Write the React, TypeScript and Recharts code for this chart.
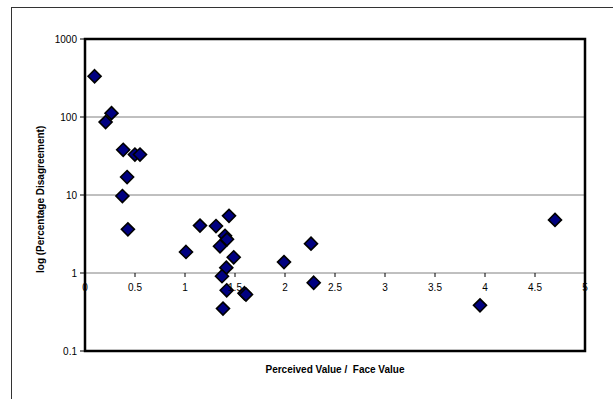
import React from 'react';
import { ScatterChart, Scatter, XAxis, YAxis, CartesianGrid, ReferenceArea } from 'recharts';

// Perceived value / face value vs percentage disagreement
const ratio = [
  0.096, 0.265, 0.206, 0.382, 0.499, 0.55, 0.421, 0.374, 0.429,
  1.01, 1.15, 1.31, 1.44, 1.4, 1.42, 1.35, 1.487, 1.413, 1.37, 1.417, 1.595, 1.61, 1.38,
  1.99, 2.26, 2.287, 3.95, 4.7,
];
const disagreement = [
  333, 112, 86, 38, 33, 33, 17, 9.7, 3.63,
  1.86, 4.05, 4.0, 5.4, 3.0, 2.7, 2.2, 1.59, 1.17, 0.91, 0.6, 0.55, 0.53, 0.35,
  1.38, 2.38, 0.75, 0.385, 4.79,
];
const xTicks = [0, 0.5, 1, 1.5, 2, 2.5, 3, 3.5, 4, 4.5, 5];
const yTicks = [0.1, 1, 10, 100, 1000];

const points = ratio.map((x, i) => ({ x, y: disagreement[i] }));

const TOP = 39;
const PLOT_H = 312;
const Y_MIN = 0.1;
const Y_MAX = 1000;
// the x axis crosses the y axis at 1
const yOne = TOP + (PLOT_H * Math.log10(Y_MAX)) / (Math.log10(Y_MAX) - Math.log10(Y_MIN));

const font = '"Liberation Sans", Arial, sans-serif';

const Diamond = (props: any) => {
  const { cx, cy } = props;
  const r = 6.5;
  return (
    <polygon
      points={`${cx},${cy - r} ${cx + r},${cy} ${cx},${cy + r} ${cx - r},${cy}`}
      fill="#000080"
      stroke="#000"
      strokeWidth={1.6}
    />
  );
};

const XTick = (props: any) => {
  const { x, payload } = props;
  return (
    <g>
      <line x1={x} x2={x} y1={yOne} y2={yOne + 4} stroke="#000" strokeWidth={1} />
      <text x={x} y={yOne + 18} textAnchor="middle" fontSize={10} fontFamily={font} fill="#000">
        {payload.value}
      </text>
    </g>
  );
};

export default function App() {
  return (
    <div style={{ position: 'relative', width: 613, height: 399, background: '#fff', overflow: 'hidden' }}>
      <style>{`body{margin:0}`}</style>
      <div
        style={{
          position: 'absolute',
          left: 11,
          top: 7,
          width: 700,
          height: 500,
          borderLeft: '1px solid #333',
          borderTop: '1px solid #333',
        }}
      />
      <ScatterChart width={613} height={399} margin={{ top: TOP, right: 28, left: 25, bottom: 0 }} style={{ position: 'absolute', left: 0, top: 0 }}>
        <CartesianGrid horizontal vertical={false} stroke="#808080" strokeWidth={1} />
        <XAxis
          type="number"
          dataKey="x"
          domain={[0, 5]}
          ticks={xTicks}
          interval={0}
          axisLine={false}
          tickLine={false}
          tick={<XTick />}
          height={48}
          label={{
            value: 'Perceived Value / \u00a0Face Value',
            position: 'insideBottom',
            offset: 26,
            fontSize: 10,
            fontWeight: 'bold',
            fontFamily: font,
            fill: '#000',
          }}
        />
        <YAxis
          type="number"
          dataKey="y"
          scale="log"
          domain={[Y_MIN, Y_MAX]}
          ticks={yTicks}
          interval={0}
          allowDataOverflow
          width={60}
          axisLine={{ stroke: '#000', strokeWidth: 2 }}
          tickLine={{ stroke: '#000' }}
          tickSize={5}
          tickMargin={3}
          tick={{ fontSize: 10, fontFamily: font, fill: '#000' }}
          label={{
            value: 'log (Percentage Disagreement)',
            angle: -90,
            position: 'insideLeft',
            offset: 15,
            dy: 78,
            fontSize: 10,
            fontWeight: 'bold',
            fontFamily: font,
            fill: '#000',
          }}
        />
        <ReferenceArea x1={0} x2={5} y1={Y_MIN} y2={Y_MAX} fill="none" stroke="#000" strokeWidth={2.5} />
        <Scatter data={points} shape={<Diamond />} isAnimationActive={false} />
      </ScatterChart>
    </div>
  );
}
